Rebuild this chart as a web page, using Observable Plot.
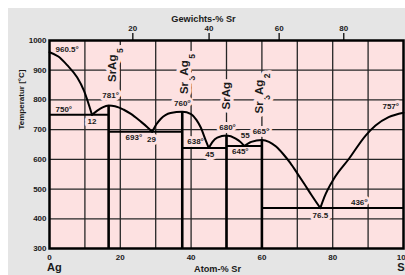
<!DOCTYPE html>
<html><head><meta charset="utf-8">
<script src="https://cdn.jsdelivr.net/npm/d3@7"></script>
<script src="https://cdn.jsdelivr.net/npm/@observablehq/plot@0.6"></script>
<style>
html,body{margin:0;padding:0;background:#fff;}
#wrap{position:relative;width:405px;height:275px;overflow:hidden;}
#bg{position:absolute;left:8px;top:8px;right:0;bottom:0;background:#e5e5e5;}
#chart{position:absolute;left:0;top:0;}
#chart svg text{font-weight:bold;}
</style></head><body>
<div id="wrap"><div id="bg"></div><div id="chart"></div></div>
<script>
// ---- data ----
const xTicks = [0, 20, 40, 60, 80, 100];
const yTicks = [300, 400, 500, 600, 700, 800, 900, 1000];
const gridX = [10, 20, 30, 40, 50, 60, 70, 80, 90];
const gridY = [400, 500, 600, 700, 800, 900];
const wtTicks = [20, 40, 60, 80];
const massAg = 107.87, massSr = 87.62;

const compoundNames = ["SrAg_5", "Sr_3Ag_5", "SrAg", "Sr_3Ag_2"];
const compoundAt = [16.7, 37.5, 50, 60];
const compoundMelt = [781, 760, 680, 665];
const compoundLabelT = [917, 887, 814, 822];

const invariantT = [750, 693, 638, 645, 436];
const invariantFrom = [0, 16.7, 37.5, 50, 60];
const invariantTo = [16.7, 37.5, 50, 60, 100];

const liquidusAg = [[0, 960.5], [2.5, 946], [5, 917], [7.8, 876], [9.7, 832], [12, 750]];
const liquidusSrAg5 = [[12, 750], [13.5, 764], [15, 775], [16.7, 781], [18.5, 779], [21, 767], [23, 753], [25.7, 728], [27.5, 710], [29, 693]];
const liquidusSr3Ag5 = [[29, 693], [30.2, 718], [31.4, 736], [34.2, 756], [37.5, 760], [40, 752], [41.5, 733], [42.7, 708], [44.1, 665], [45, 638]];
const liquidusSrAg = [[45, 638], [46, 658], [47.4, 673], [50, 680], [52.6, 670], [54, 658], [55, 645]];
const liquidusSr3Ag2 = [[55, 645], [57, 659], [60, 665], [62, 659], [64, 643], [66, 618], [68, 588], [70, 553], [72, 517], [74, 480], [76.5, 436]];
const liquidusSr = [[76.5, 436], [77.6, 472], [80.3, 534], [84.6, 602], [89.3, 680], [92.1, 714], [95.8, 742], [100, 757]];

const labelTexts = ["960.5°", "781°", "750°", "12", "693°", "29", "760°", "638°", "45", "680°", "55", "645°", "665°", "76.5", "436°", "757°"];
const labelAt =    [0, 16.7, 0, 12, 29, 29, 37.5, 37.5, 45, 50, 55, 50, 60, 76.5, 100, 100];
const labelT =     [960.5, 781, 750, 750, 693, 693, 760, 638, 638, 680, 645, 645, 665, 436, 436, 757];

// ---- styling / placement ----
const labelPlace = [
  ["start", 6, -3], ["middle", 2, -10], ["start", 6, -5.5], ["middle", 0, 6.7],
  ["end", -10, 6], ["middle", -0.7, 7.5], ["middle", 0, -8], ["start", 5, -6.5],
  ["middle", 1, 6], ["middle", 1, -8], ["middle", 1, -11], ["start", 5.5, 5],
  ["middle", -1, -8.5], ["middle", 0, 7], ["end", -36, -6], ["end", -4.5, -6]
];
const compoundDx = [3.5, 2.5, 0, -2.5];
const pink = "#fde1e1";
const ink = "#1a1a1a";
const B = "bold";

const atFromWt = w => (w / massSr) / (w / massSr + (100 - w) / massAg) * 100;
const wtFromAt = a => (a * massSr) / (a * massSr + (100 - a) * massAg) * 100;

const liquidus = [liquidusAg, liquidusSrAg5, liquidusSr3Ag5, liquidusSrAg, liquidusSr3Ag2, liquidusSr]
  .flatMap((seg, k) => seg.map(([a, T]) => ({a, T, seg: k})));
const compounds = compoundNames.map((name, i) => ({name, at: compoundAt[i], melt: compoundMelt[i], lt: compoundLabelT[i]}));
const invariants = invariantT.map((T, i) => ({T, x1: invariantFrom[i], x2: invariantTo[i]}));

const labelMarks = labelTexts.map((t, i) => Plot.text([i], {
  x: j => labelAt[j], y: j => labelT[j], text: j => labelTexts[j],
  textAnchor: labelPlace[i][0], dx: labelPlace[i][1], dy: labelPlace[i][2],
  fontSize: 8, fontWeight: B, fill: ink, stroke: pink, strokeWidth: 6
}));
const compoundLabelMarks = compounds.map((c, i) => Plot.text([c], {
  x: "at", y: "lt", text: "name", rotate: -90, dx: compoundDx[i],
  fontSize: 11.5, fontWeight: B, fill: ink, stroke: pink, strokeWidth: 7
}));

const plot = Plot.plot({
  width: 405, height: 275,
  marginLeft: 49, marginRight: 2, marginTop: 40, marginBottom: 27,
  x: {domain: [0, 100]},
  y: {domain: [300, 1000]},
  style: "background: transparent; font-family: 'Liberation Sans', Arial, sans-serif; font-weight: bold; font-size: 8px; color: #1a1a1a;",
  marks: [
    Plot.frame({fill: pink}),
    Plot.ruleX(gridX, {stroke: "#262626", strokeWidth: 1.3}),
    Plot.ruleY(gridY, {stroke: "#262626", strokeWidth: 1.3}),
    ...labelMarks,
    ...compoundLabelMarks,
    Plot.ruleX(compounds, {x: "at", y1: 300, y2: "melt", stroke: "black", strokeWidth: 2.6}),
    Plot.ruleY(invariants, {y: "T", x1: "x1", x2: "x2", stroke: "black", strokeWidth: 2}),
    Plot.line(liquidus, {x: "a", y: "T", z: "seg", curve: "monotone-x", stroke: "black", strokeWidth: 2}),
    Plot.axisY(yTicks, {anchor: "left", tickSize: 0, tickPadding: 3, label: null, fontSize: 8, fontWeight: B, tickFormat: d => String(d)}),
    Plot.axisX(xTicks, {anchor: "bottom", tickSize: 0, tickPadding: 6, label: null, fontSize: 8, fontWeight: B, tickFormat: d => String(d)}),
    Plot.axisX(wtTicks.map(atFromWt), {anchor: "top", tickSize: 8, tickPadding: 2, strokeWidth: 1.4, label: null, fontSize: 8, fontWeight: B,
      tickFormat: d => String(Math.round(wtFromAt(d)))}),
    Plot.text(["Gewichts-% Sr"], {frameAnchor: "top", text: d => d, dx: -23, dy: -25, fontSize: 9.2, fontWeight: B, fill: ink}),
    Plot.text(["Atom-% Sr"], {frameAnchor: "bottom", text: d => d, dx: -9, dy: 23, fontSize: 9.2, fontWeight: B, fill: ink}),
    Plot.text(["Ag"], {frameAnchor: "bottom-left", text: d => d, textAnchor: "start", dx: -2.5, dy: 22.7, fontSize: 11, fontWeight: B, fill: ink}),
    Plot.text(["Sr"], {frameAnchor: "bottom-right", text: d => d, textAnchor: "start", dx: -6.3, dy: 22.7, fontSize: 11, fontWeight: B, fill: ink}),
    Plot.text(["Temperatur [°C]"], {frameAnchor: "left", text: d => d, rotate: -90, dx: -28.5, dy: -15, fontSize: 8, fontWeight: B, fill: ink}),
    Plot.frame({stroke: "black", strokeWidth: 2.5})
  ]
});

// subscripts for compound formulas
const NS = "http://www.w3.org/2000/svg";
plot.querySelectorAll("text").forEach(t => {
  const s = t.textContent;
  if (!s.includes("_")) return;
  while (t.firstChild) t.removeChild(t.firstChild);
  let shifted = false;
  s.split(/(_\d)/).filter(Boolean).forEach(part => {
    const ts = document.createElementNS(NS, "tspan");
    if (part[0] === "_") {
      ts.textContent = part.slice(1);
      ts.setAttribute("font-size", "8.5");
      ts.setAttribute("dy", "7");
      ts.setAttribute("dx", "1.5");
      shifted = true;
    } else {
      ts.textContent = part;
      if (shifted) { ts.setAttribute("dy", "-7"); shifted = false; }
    }
    t.appendChild(ts);
  });
});

document.getElementById("chart").appendChild(plot);
</script>
</body></html>
